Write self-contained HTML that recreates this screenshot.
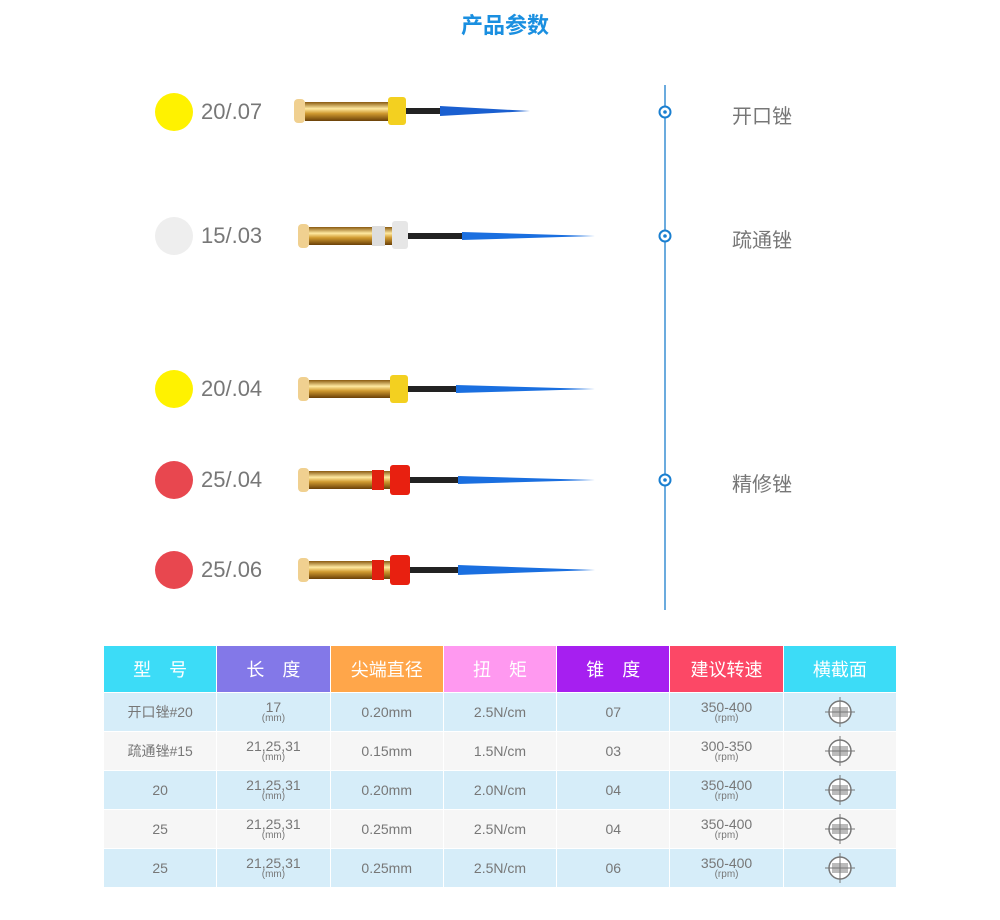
<!DOCTYPE html>
<html><head><meta charset="utf-8"><style>
body{margin:0;width:1000px;height:920px;background:#fff;font-family:"Liberation Sans","Noto Sans CJK SC",sans-serif;position:relative;overflow:hidden}
.t{position:absolute;color:#777}
table{position:absolute;left:103px;top:645px;border-collapse:collapse;width:794px;table-layout:fixed}
td,th{text-align:center;color:#777;font-size:14px;padding:0;border:1px solid #fff}
th{height:46px;color:#fff;font-weight:normal;font-size:18px}
td{height:38px;line-height:14px}
tr.a td{background:#d6edf9}
tr.b td{background:#f6f6f6}
small{font-size:10px;display:block;line-height:10px}
td svg{display:block;margin:0 auto}
</style></head><body>
<div class="t" style="left:0;width:1010px;text-align:center;top:8px;font-size:22px;font-weight:bold;color:#1a8fe0">产品参数</div>
<svg width="1000" height="640" style="position:absolute;left:0;top:0">
<defs><linearGradient id="g" x1="0" y1="0" x2="0" y2="1"><stop offset="0" stop-color="#8a5a10"/><stop offset=".35" stop-color="#ffe9a0"/><stop offset=".6" stop-color="#d09a30"/><stop offset="1" stop-color="#6a4008"/></linearGradient></defs>
<circle cx="174" cy="112" r="19" fill="#fff200"/>
<circle cx="174" cy="236" r="19" fill="#eeeeee"/>
<circle cx="174" cy="389" r="19" fill="#fff200"/>
<circle cx="174" cy="480" r="19" fill="#e8474f"/>
<circle cx="174" cy="570" r="19" fill="#e8474f"/>
<line x1="665" y1="85" x2="665" y2="610" stroke="#3a8fd4" stroke-width="1.5"/>
<g fill="#fff" stroke="#1a7fd0" stroke-width="2"><circle cx="665" cy="112" r="5.5"/><circle cx="665" cy="236" r="5.5"/><circle cx="665" cy="480" r="5.5"/></g>
<g fill="#1a7fd0"><circle cx="665" cy="112" r="1.8"/><circle cx="665" cy="236" r="1.8"/><circle cx="665" cy="480" r="1.8"/></g>
<g><rect x="294" y="99" width="11" height="24" rx="4" fill="#f0d090"/><rect x="305" y="102" width="83" height="19" fill="url(#g)"/><rect x="406" y="108" width="36" height="6" fill="#222"/><polygon points="440,106 530,111 440,116" fill="#1a5fd0"/><rect x="388" y="97" width="18" height="28" rx="3" fill="#f3d020"/></g>
<g><rect x="298" y="224" width="11" height="24" rx="4" fill="#f0d090"/><rect x="309" y="227" width="83" height="18" fill="url(#g)"/><rect x="372" y="226" width="13" height="20" fill="#ddd"/><rect x="408" y="233" width="54" height="6" fill="#222"/><polygon points="462,232 595,236 462,240" fill="#1a6fe0"/><rect x="392" y="221" width="16" height="28" rx="3" fill="#e6e6e6"/></g>
<g><rect x="298" y="377" width="11" height="24" rx="4" fill="#f0d090"/><rect x="309" y="380" width="81" height="18" fill="url(#g)"/><rect x="408" y="386" width="50" height="6" fill="#222"/><polygon points="456,385 595,389 456,393" fill="#1a6fe0"/><rect x="390" y="375" width="18" height="28" rx="3" fill="#f3d020"/></g>
<g><rect x="298" y="468" width="11" height="24" rx="4" fill="#f0d090"/><rect x="309" y="471" width="81" height="18" fill="url(#g)"/><rect x="372" y="470" width="12" height="20" fill="#e02010"/><rect x="410" y="477" width="50" height="6" fill="#222"/><polygon points="458,476 595,480 458,484" fill="#1a6fe0"/><rect x="390" y="465" width="20" height="30" rx="3" fill="#e82010"/></g>
<g><rect x="298" y="558" width="11" height="24" rx="4" fill="#f0d090"/><rect x="309" y="561" width="81" height="18" fill="url(#g)"/><rect x="372" y="560" width="12" height="20" fill="#e02010"/><rect x="410" y="567" width="50" height="6" fill="#222"/><polygon points="458,565 595,570 458,575" fill="#1a6fe0"/><rect x="390" y="555" width="20" height="30" rx="3" fill="#e82010"/></g>
</svg>
<div class="t" style="left:201px;top:99px;font-size:22px">20/.07</div>
<div class="t" style="left:201px;top:223px;font-size:22px">15/.03</div>
<div class="t" style="left:201px;top:376px;font-size:22px">20/.04</div>
<div class="t" style="left:201px;top:467px;font-size:22px">25/.04</div>
<div class="t" style="left:201px;top:557px;font-size:22px">25/.06</div>
<div class="t" style="left:732px;top:100px;font-size:20px">开口锉</div>
<div class="t" style="left:732px;top:224px;font-size:20px">疏通锉</div>
<div class="t" style="left:732px;top:468px;font-size:20px">精修锉</div>
<table>
<tr><th style="background:#3cdcf7">型　号</th><th style="background:#8378e8">长　度</th><th style="background:#ffa64a">尖端直径</th><th style="background:#ff99f0">扭　矩</th><th style="background:#a61ff0">锥　度</th><th style="background:#fc4866">建议转速</th><th style="background:#3cdcf7">横截面</th></tr>
<tr class="a"><td>开口锉#20</td><td>17<small>(mm)</small></td><td>0.20mm</td><td>2.5N/cm</td><td>07</td><td>350-400<small>(rpm)</small></td><td><svg width="32" height="32"><circle cx="16" cy="16" r="11" fill="#fff" stroke="#777" stroke-width="1.5"/><rect x="8" y="11" width="16" height="10" fill="#bbb"/><line x1="1" y1="16" x2="31" y2="16" stroke="#777"/><line x1="16" y1="1" x2="16" y2="31" stroke="#777"/></svg></td></tr>
<tr class="b"><td>疏通锉#15</td><td>21,25,31<small>(mm)</small></td><td>0.15mm</td><td>1.5N/cm</td><td>03</td><td>300-350<small>(rpm)</small></td><td><svg width="32" height="32"><circle cx="16" cy="16" r="11" fill="#fff" stroke="#777" stroke-width="1.5"/><rect x="8" y="11" width="16" height="10" fill="#bbb"/><line x1="1" y1="16" x2="31" y2="16" stroke="#777"/><line x1="16" y1="1" x2="16" y2="31" stroke="#777"/></svg></td></tr>
<tr class="a"><td>20</td><td>21,25,31<small>(mm)</small></td><td>0.20mm</td><td>2.0N/cm</td><td>04</td><td>350-400<small>(rpm)</small></td><td><svg width="32" height="32"><circle cx="16" cy="16" r="11" fill="#fff" stroke="#777" stroke-width="1.5"/><rect x="8" y="11" width="16" height="10" fill="#bbb"/><line x1="1" y1="16" x2="31" y2="16" stroke="#777"/><line x1="16" y1="1" x2="16" y2="31" stroke="#777"/></svg></td></tr>
<tr class="b"><td>25</td><td>21,25,31<small>(mm)</small></td><td>0.25mm</td><td>2.5N/cm</td><td>04</td><td>350-400<small>(rpm)</small></td><td><svg width="32" height="32"><circle cx="16" cy="16" r="11" fill="#fff" stroke="#777" stroke-width="1.5"/><rect x="8" y="11" width="16" height="10" fill="#bbb"/><line x1="1" y1="16" x2="31" y2="16" stroke="#777"/><line x1="16" y1="1" x2="16" y2="31" stroke="#777"/></svg></td></tr>
<tr class="a"><td>25</td><td>21,25,31<small>(mm)</small></td><td>0.25mm</td><td>2.5N/cm</td><td>06</td><td>350-400<small>(rpm)</small></td><td><svg width="32" height="32"><circle cx="16" cy="16" r="11" fill="#fff" stroke="#777" stroke-width="1.5"/><rect x="8" y="11" width="16" height="10" fill="#bbb"/><line x1="1" y1="16" x2="31" y2="16" stroke="#777"/><line x1="16" y1="1" x2="16" y2="31" stroke="#777"/></svg></td></tr>
</table>
</body></html>
